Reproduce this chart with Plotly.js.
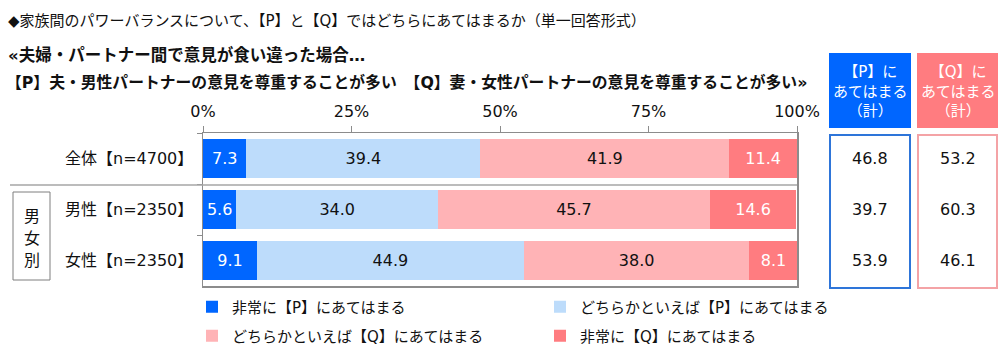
<!DOCTYPE html>
<html>
<head>
<meta charset="utf-8">
<script src="https://cdn.plot.ly/plotly-3.0.1.min.js"></script>
<style>html,body{margin:0;padding:0;background:#fff;}#chart{width:1000px;height:352px;}</style>
</head>
<body>
<div id="chart"></div>
<script>
// ---- data ----
const categories = ["全体【n=4700】", "男性【n=2350】", "女性【n=2350】"];
const seriesNames = ["非常に【P】にあてはまる", "どちらかといえば【P】にあてはまる", "どちらかといえば【Q】にあてはまる", "非常に【Q】にあてはまる"];
const veryP = [7.3, 5.6, 9.1];
const ratherP = [39.4, 34.0, 44.9];
const ratherQ = [41.9, 45.7, 38.0];
const veryQ = [11.4, 14.6, 8.1];
const totalP = [46.8, 39.7, 53.9];
const totalQ = [53.2, 60.3, 46.1];
const xTickVals = [0, 25, 50, 75, 100];
const xTickText = ["0%", "25%", "50%", "75%", "100%"];
const titleLine1 = "◆家族間のパワーバランスについて、【P】と【Q】ではどちらにあてはまるか（単一回答形式）";
const titleLine2 = "«夫婦・パートナー間で意見が食い違った場合…";
const titleLine3 = "【P】夫・男性パートナーの意見を尊重することが多い　【Q】妻・女性パートナーの意見を尊重することが多い»";
const headerP = "【P】に<br>あてはまる<br>（計）";
const headerQ = "【Q】に<br>あてはまる<br>（計）";
const groupChars = ["男", "女", "別"];

// ---- styles ----
const FONT = "DejaVu Sans, Noto Sans CJK JP, sans-serif";
const JFONT = "Noto Sans CJK JP, DejaVu Sans, sans-serif";
const colors = ["#0066FF", "#BDDCFB", "#FFB3B6", "#FF7C80"];
const textColors = ["#FFFFFF", "#111111", "#111111", "#FFFFFF"];
const W = 1000, H = 352;
const L = 203, R = 797, T = 133, B = 286;
const px = v => (v - L) / (R - L);
const py = v => (B - v) / (B - T);

const seriesVals = [veryP, ratherP, ratherQ, veryQ];
const legendIds = ["legend", "legend2", "legend3", "legend4"];
const traces = seriesVals.map((vals, i) => ({
  type: "bar",
  orientation: "h",
  name: seriesNames[i],
  y: categories,
  x: vals,
  text: vals.map(v => v.toFixed(1)),
  textposition: "inside",
  insidetextanchor: "middle",
  constraintext: "none",
  textfont: {family: FONT, size: 16, color: textColors[i]},
  marker: {color: colors[i], line: {width: 0}},
  hoverinfo: "skip",
  legend: legendIds[i]
}));

const shapes = [
  // separator line
  {type: "line", xref: "paper", yref: "paper", x0: px(10), x1: 1, y0: py(185), y1: py(185), line: {color: "#A6A6A6", width: 1.5}},
  // group box
  {type: "rect", xref: "paper", yref: "paper", x0: px(13), x1: px(50), y0: py(192), y1: py(280), line: {color: "#7F7F7F", width: 1}},
  // header boxes
  {type: "rect", xref: "paper", yref: "paper", x0: px(829), x1: px(911), y0: py(53), y1: py(128), fillcolor: "#0066FF", line: {width: 0}},
  {type: "rect", xref: "paper", yref: "paper", x0: px(917), x1: px(998), y0: py(53), y1: py(128), fillcolor: "#FF7C80", line: {width: 0}},
  // value boxes
  {type: "rect", xref: "paper", yref: "paper", x0: px(830), x1: px(910), y0: py(135), y1: py(288), line: {color: "#2E75D9", width: 2}},
  {type: "rect", xref: "paper", yref: "paper", x0: px(918), x1: px(997), y0: py(135), y1: py(288), line: {color: "#F4A3A6", width: 2}}
];

const annotations = [
  {text: titleLine1, xref: "paper", yref: "paper", x: px(6), y: py(21), xanchor: "left", yanchor: "middle", showarrow: false, font: {family: FONT, size: 15, color: "#111"}},
  {text: "<b>" + titleLine2 + "</b>", xref: "paper", yref: "paper", x: px(6), y: py(55), xanchor: "left", yanchor: "middle", showarrow: false, font: {family: FONT, size: 16.5, color: "#111"}},
  {text: "<b>" + titleLine3 + "</b>", xref: "paper", yref: "paper", x: px(4), y: py(82), xanchor: "left", yanchor: "middle", showarrow: false, font: {family: FONT, size: 15.8, color: "#111"}},
  {text: headerP, xref: "paper", yref: "paper", x: px(870), y: py(91), xanchor: "center", yanchor: "middle", showarrow: false, font: {family: FONT, size: 15, color: "#FFFFFF"}},
  {text: headerQ, xref: "paper", yref: "paper", x: px(957.5), y: py(91), xanchor: "center", yanchor: "middle", showarrow: false, font: {family: FONT, size: 15, color: "#FFFFFF"}}
];
const groupY = [215, 237, 259];
groupChars.forEach((ch, i) => {
  annotations.push({text: ch, xref: "paper", yref: "paper", x: px(31.5), y: py(groupY[i]), xanchor: "center", yanchor: "middle", showarrow: false, font: {family: JFONT, size: 16, color: "#111"}});
});
categories.forEach((c, i) => {
  annotations.push({text: totalP[i].toFixed(1), xref: "paper", yref: "y", x: px(870), y: c, xanchor: "center", yanchor: "middle", showarrow: false, font: {family: FONT, size: 16, color: "#111"}});
  annotations.push({text: totalQ[i].toFixed(1), xref: "paper", yref: "y", x: px(957.5), y: c, xanchor: "center", yanchor: "middle", showarrow: false, font: {family: FONT, size: 16, color: "#111"}});
});

const legendCommon = {
  orientation: "v", itemwidth: 30,
  font: {family: FONT, size: 15, color: "#111"}, bgcolor: "rgba(0,0,0,0)",
  xanchor: "left", yanchor: "middle", yref: "paper", itemclick: false, itemdoubleclick: false
};
const legendPos = [[192, 307], [540, 307], [192, 336], [540, 336]];

const layout = {
  width: W, height: H,
  margin: {l: L, r: W - R, t: T, b: H - B, pad: 0, autoexpand: false},
  paper_bgcolor: "#fff", plot_bgcolor: "#fff",
  font: {family: FONT, size: 16, color: "#111"},
  barmode: "stack",
  bargap: 0.23,
  showlegend: true,
  xaxis: {
    side: "top", range: [0, 100], fixedrange: true, automargin: false,
    tickvals: xTickVals, ticktext: xTickText,
    ticks: "outside", ticklen: 6, tickcolor: "#8C8C8C", tickwidth: 1,
    showline: true, linecolor: "#8C8C8C", linewidth: 1.5, mirror: true,
    showgrid: false, zeroline: false,
    ticklabelstandoff: 2,
    tickfont: {family: FONT, size: 16, color: "#111"}
  },
  yaxis: {
    type: "category", autorange: "reversed", fixedrange: true, automargin: false,
    ticks: "outside", tickson: "boundaries", ticklen: 5, tickcolor: "#8C8C8C",
    showline: true, linecolor: "#8C8C8C", linewidth: 1.5, mirror: true,
    showgrid: false, zeroline: false,
    ticklabelstandoff: 5,
    tickfont: {family: FONT, size: 16, color: "#111"}
  },
  shapes: shapes,
  annotations: annotations
};
legendIds.forEach((id, i) => {
  layout[id] = Object.assign({}, legendCommon, {x: px(legendPos[i][0]), y: py(legendPos[i][1])});
});

Plotly.newPlot("chart", traces, layout, {staticPlot: true, displayModeBar: false});
</script>
</body>
</html>
